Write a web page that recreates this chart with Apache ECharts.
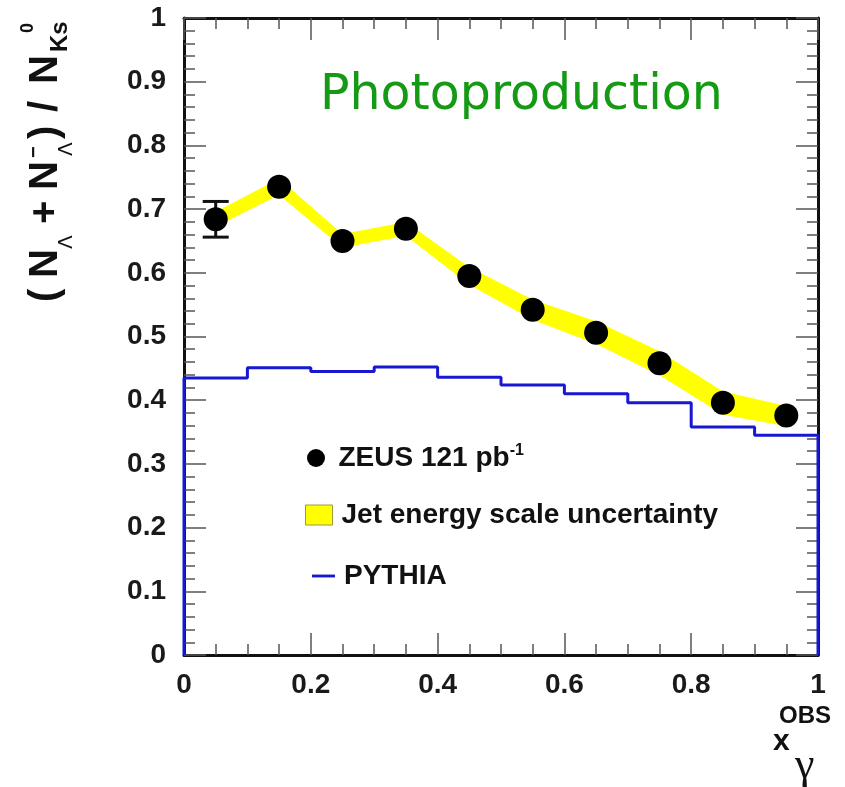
<!DOCTYPE html>
<html>
<head>
<meta charset="utf-8">
<script src="https://cdn.jsdelivr.net/npm/echarts@6/dist/echarts.min.js"></script>
<style>html,body{margin:0;padding:0;background:#fff;}#chart{width:845px;height:787px;}</style>
</head>
<body>
<div id="chart"></div>
<script>
// ---- data ----
const xCenters   = [0.05, 0.15, 0.25, 0.35, 0.45, 0.55, 0.65, 0.75, 0.85, 0.95];
const zeusValues = [0.684, 0.735, 0.650, 0.669, 0.595, 0.542, 0.506, 0.458, 0.396, 0.376];
const zeusErrors = [0.028, 0.009, 0.009, 0.009, 0.009, 0.009, 0.009, 0.009, 0.009, 0.009];
const bandUpper  = [0.695, 0.747, 0.660, 0.679, 0.608, 0.557, 0.523, 0.476, 0.413, 0.390];
const bandLower  = [0.673, 0.723, 0.640, 0.659, 0.582, 0.527, 0.489, 0.440, 0.378, 0.360];
const pythiaEdges  = [0, 0.1, 0.2, 0.3, 0.4, 0.5, 0.6, 0.7, 0.8, 0.9, 1.0];
const pythiaValues = [0.435, 0.451, 0.445, 0.452, 0.436, 0.424, 0.410, 0.396, 0.358, 0.345];
const xTicks = {min: 0, max: 1, interval: 0.2};
const yTicks = {min: 0, max: 1, interval: 0.1};

const NAME_ZEUS = 'ZEUS 121 pb-1';
const NAME_BAND = 'Jet energy scale uncertainty';
const NAME_PYTHIA = 'PYTHIA';

// step histogram outline built from bin edges / contents
const pythiaLine = [[pythiaEdges[0], 0]];
pythiaValues.forEach((v, i) => { pythiaLine.push([pythiaEdges[i], v], [pythiaEdges[i + 1], v]); });
pythiaLine.push([pythiaEdges[pythiaEdges.length - 1], 0]);

const FONT = 'Liberation Sans, Arial, Helvetica, sans-serif';
const AX = '#111';
const TICK = '#555';
const BLUE = '#1818d2';

function axisCommon(pos, t, minorSplit, showLabel) {
  return {
    type: 'value', position: pos, min: t.min, max: t.max, interval: t.interval,
    axisLine: {show: true, onZero: false, lineStyle: {color: AX, width: 3}},
    axisTick: {show: true, inside: true, length: 22, lineStyle: {color: TICK, width: 1.5}},
    minorTick: {show: true, splitNumber: minorSplit, length: 11, lineStyle: {color: TICK, width: 1.5}},
    splitLine: {show: false}, minorSplitLine: {show: false},
    axisLabel: {show: showLabel, fontFamily: FONT, fontWeight: 'bold', fontSize: 28, color: '#1a1a1a',
      margin: pos === 'left' ? 18 : 16}
  };
}

const chart = echarts.init(document.getElementById('chart'), null, {renderer: 'canvas'});

const legendText = {fontFamily: FONT, fontWeight: 'bold', fontSize: 28, color: '#111', lineHeight: 30, padding: [0, 0, 0, 4]};

const ttl = (text, x, y, size, extra) => Object.assign({type: 'text', x: x, y: y, silent: true,
  style: Object.assign({text: text, font: 'bold ' + size + 'px ' + FONT, fill: '#111', align: 'left', verticalAlign: 'middle'}, extra || {})});

chart.setOption({
  animation: false,
  backgroundColor: '#fff',
  grid: {left: 184, right: 27, top: 18, bottom: 132, show: false},
  xAxis: [axisCommon('bottom', xTicks, 4, true), axisCommon('top', xTicks, 4, false)],
  yAxis: [axisCommon('left', yTicks, 5, true), axisCommon('right', yTicks, 5, false)],
  legend: [
    {data: [{name: NAME_ZEUS, icon: 'circle', itemStyle: {color: '#000', opacity: 1}}], left: 307, top: 443, padding: 0, itemWidth: 27, itemHeight: 18,
     selectedMode: false, formatter: () => 'ZEUS 121 pb{sup|-1}',
     textStyle: Object.assign({}, legendText, {rich: {sup: {fontFamily: FONT, fontWeight: 'bold', fontSize: 16, lineHeight: 16, verticalAlign: 'top', color: '#111'}}})},
    {data: [{name: NAME_BAND, icon: 'rect', itemStyle: {color: '#ffff00', borderColor: '#9c9a3c', borderWidth: 1}}],
     left: 305, top: 500, padding: 0, itemWidth: 27, itemHeight: 20, selectedMode: false, textStyle: legendText},
    {data: [{name: NAME_PYTHIA, icon: 'path://M0,0H24V3H0Z', itemStyle: {color: BLUE}}], left: 312, top: 561, padding: 0, itemWidth: 23, itemHeight: 18,
     selectedMode: false, textStyle: legendText}
  ],
  series: [
    {
      type: 'custom', name: NAME_BAND, z: 1,
      itemStyle: {color: '#ffff00'},
      data: xCenters.map((x, i) => [x, bandLower[i], bandUpper[i]]),
      encode: {x: 0, y: [1, 2]},
      renderItem: (params, api) => {
        const i = params.dataIndex;
        if (i >= xCenters.length - 1) return null;
        const pts = [
          api.coord([xCenters[i], bandLower[i]]),
          api.coord([xCenters[i + 1], bandLower[i + 1]]),
          api.coord([xCenters[i + 1], bandUpper[i + 1]]),
          api.coord([xCenters[i], bandUpper[i]])
        ];
        return {type: 'polygon', shape: {points: pts}, style: {fill: '#ffff00', stroke: '#ffff00', lineWidth: 1}};
      }
    },
    {
      type: 'line', name: NAME_PYTHIA, z: 3, data: pythiaLine, symbol: 'none', showSymbol: false, clip: false,
      lineStyle: {color: BLUE, width: 3}, itemStyle: {color: BLUE}
    },
    {
      type: 'custom', name: 'stat', z: 4,
      data: xCenters.map((x, i) => [x, zeusValues[i] - zeusErrors[i], zeusValues[i] + zeusErrors[i]]),
      encode: {x: 0, y: [1, 2]},
      renderItem: (params, api) => {
        const lo = api.coord([api.value(0), api.value(1)]);
        const hi = api.coord([api.value(0), api.value(2)]);
        if (lo[1] - hi[1] < 26) return null;
        const cw = 13;
        const st = {stroke: '#111', lineWidth: 3};
        return {type: 'group', children: [
          {type: 'line', shape: {x1: lo[0], y1: lo[1], x2: hi[0], y2: hi[1]}, style: st},
          {type: 'line', shape: {x1: lo[0] - cw, y1: lo[1], x2: lo[0] + cw, y2: lo[1]}, style: st},
          {type: 'line', shape: {x1: hi[0] - cw, y1: hi[1], x2: hi[0] + cw, y2: hi[1]}, style: st}
        ]};
      }
    },
    {
      type: 'scatter', name: NAME_ZEUS, z: 5, symbol: 'circle', symbolSize: 24,
      itemStyle: {color: '#000', opacity: 1},
      data: xCenters.map((x, i) => [x, zeusValues[i]])
    }
  ],
  graphic: [
    {type: 'text', x: 320, y: 96, silent: true,
     style: {text: 'Photoproduction', font: '49px DejaVu Sans, sans-serif', fill: '#159a15', align: 'left', verticalAlign: 'middle'}},
    // y-axis title, rotated to read bottom-to-top
    {type: 'group', x: 46, y: 302, rotation: Math.PI / 2, silent: true, children: [
      ttl('(', 0, 0, 40),
      ttl('N', 24, 0, 40),
      {type: 'text', x: 53, y: 21, style: {text: 'Λ', font: '20px DejaVu Sans, sans-serif', fill: '#111', align: 'left', verticalAlign: 'middle'}},
      ttl('+', 78, 0, 40),
      ttl('N', 112, 0, 40),
      ttl('−', 144, -12, 20),
      {type: 'text', x: 146, y: 21, style: {text: 'Λ', font: '20px DejaVu Sans, sans-serif', fill: '#111', align: 'left', verticalAlign: 'middle'}},
      ttl(')', 163, 0, 40),
      ttl('/', 190, 0, 40),
      ttl('N', 218, 0, 40),
      ttl('Ks', 250, 14, 24),
      ttl('0', 269, -18, 18)
    ]},
    // x-axis title
    ttl('OBS', 779, 716, 24),
    ttl('x', 773, 742, 30),
    {type: 'text', x: 795, y: 766, silent: true,
     style: {text: 'γ', font: '44px Liberation Serif, serif', fill: '#111', align: 'left', verticalAlign: 'middle'}}
  ]
});
</script>
</body>
</html>
